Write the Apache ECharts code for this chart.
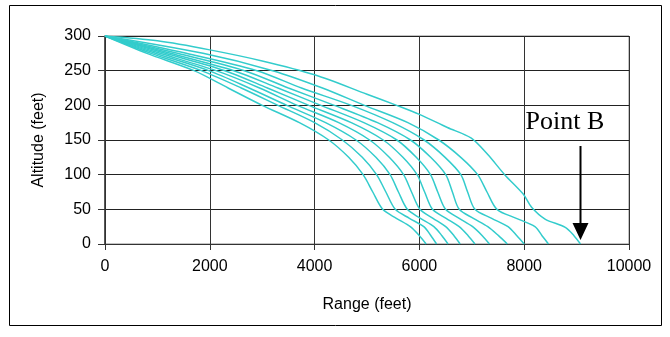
<!DOCTYPE html>
<html>
<head>
<meta charset="utf-8">
<script src="https://cdn.jsdelivr.net/npm/echarts@6/dist/echarts.min.js"></script>
<style>
html,body{margin:0;padding:0;background:#fff;}
#chart{width:670px;height:337px;}
</style>
</head>
<body>
<div id="chart"></div>
<script>
// ---- data (range in feet, altitude in feet) ----
var xTicks = [0, 2000, 4000, 6000, 8000, 10000];
var yTicks = [0, 50, 100, 150, 200, 250, 300];
var xTitle = 'Range (feet)';
var yTitle = 'Altitude (feet)';
var annotationText = 'Point B';
var pointB = [9074, 0];

var curve0 = [[0,300],[800,275],[1700,250],[2350,225],[3000,200],[3710,175],[4270,150],[4650,125],[4926,100],[5110,75],[5300,50],[5560,37],[5826,25],[6000,12],[6129,0]];
var curve1 = [[0,300],[880,275],[1840,250],[2600,225],[3300,200],[4000,175],[4530,150],[4910,125],[5183,100],[5360,75],[5540,50],[5810,37],[6084,25],[6220,12],[6328,0]];
var curve2 = [[0,300],[960,275],[1980,250],[2750,225],[3470,200],[4210,175],[4790,150],[5170,125],[5441,100],[5600,75],[5770,50],[6020,37],[6276,25],[6430,12],[6547,0]];
var curve3 = [[0,300],[1050,275],[2120,250],[2950,225],[3670,200],[4460,175],[5050,150],[5425,125],[5698,100],[5850,75],[6010,50],[6260,37],[6502,25],[6660,12],[6778,0]];
var curve4 = [[0,300],[1150,275],[2290,250],[3100,225],[3890,200],[4700,175],[5310,150],[5685,125],[5955,100],[6100,75],[6250,50],[6510,37],[6759,25],[6930,12],[7061,0]];
var curve5 = [[0,300],[1250,275],[2460,250],[3300,225],[4120,200],[4940,175],[5570,150],[5940,125],[6212,100],[6350,75],[6500,50],[6760,37],[7016,25],[7200,12],[7337,0]];
var curve6 = [[0,300],[1380,275],[2660,250],[3500,225],[4375,200],[5200,175],[5830,150],[6215,125],[6502,100],[6630,75],[6760,50],[7030,37],[7305,25],[7510,12],[7678,0]];
var curve7 = [[0,300],[1550,275],[2900,250],[3750,225],[4700,200],[5490,175],[6090,150],[6490,125],[6791,100],[6920,75],[7060,50],[7380,37],[7691,25],[7860,12],[8000,0]];
var curve8 = [[0,300],[1870,275],[3200,250],[4150,225],[4950,200],[5780,175],[6370,150],[6790,125],[7112,100],[7290,75],[7480,50],[7850,37],[8205,25],[8340,12],[8463,0]];
var curve9 = [[0,300],[1000,293],[2000,280],[3000,264],[4000,244],[5000,216],[5566,200],[6000,187],[6534,168],[6984,153],[7305,129],[7627,100],[7981,72],[8141,53],[8398,36],[8784,24],[8950,12],[9074,0]];

var curves = [curve0, curve1, curve2, curve3, curve4, curve5, curve6, curve7, curve8, curve9];

var LINE_COLOR = '#33CCCC';
var FONT = '"Liberation Sans", Arial, sans-serif';

var chart = echarts.init(document.getElementById('chart'), null, {renderer: 'canvas'});

var series = curves.map(function (c, i) {
  return {
    type: 'line',
    name: 'c' + i,
    data: c,
    showSymbol: false,
    smooth: 0.3,
    lineStyle: {color: LINE_COLOR, width: 1.5},
    itemStyle: {color: LINE_COLOR},
    silent: true,
    animation: false,
    z: 3
  };
});

chart.setOption({
  animation: false,
  backgroundColor: '#fff',
  grid: {left: 105, right: 41, top: 36, bottom: 93, show: true, borderColor: '#888', borderWidth: 1, containLabel: false},
  xAxis: {
    type: 'value',
    min: xTicks[0], max: xTicks[xTicks.length - 1], interval: 2000,
    name: xTitle, nameLocation: 'middle', nameGap: 53,
    nameTextStyle: {fontFamily: FONT, fontSize: 16, color: '#000'},
    axisLine: {show: true, onZero: false, lineStyle: {color: '#333', width: 1}},
    axisTick: {show: true, inside: false, length: 6, lineStyle: {color: '#333'}},
    axisLabel: {fontFamily: FONT, fontSize: 16, color: '#000', margin: 15, formatter: function (v) { return String(v); }},
    splitLine: {show: true, lineStyle: {color: '#333', width: 1}}
  },
  yAxis: {
    type: 'value',
    min: yTicks[0], max: yTicks[yTicks.length - 1], interval: 50,
    name: yTitle, nameLocation: 'middle', nameGap: 58, nameRotate: 90,
    nameTextStyle: {fontFamily: FONT, fontSize: 16, color: '#000'},
    axisLine: {show: true, onZero: false, lineStyle: {color: '#333', width: 1.5}},
    axisTick: {show: true, inside: false, length: 7, lineStyle: {color: '#333'}},
    axisLabel: {fontFamily: FONT, fontSize: 16, color: '#000', margin: 14, formatter: function (v) { return String(v); }},
    splitLine: {show: true, lineStyle: {color: '#222', width: 1}}
  },
  series: series
});

// annotation: "Point B" label with arrow, positioned from data coords
var tip = chart.convertToPixel({gridIndex: 0}, pointB);
var ax = Math.round(tip[0]) + 0.5;
var tipY = tip[1] - 4;
chart.setOption({
  graphic: [
    {type: 'rect', shape: {x: 9.5, y: 5.5, width: 652, height: 320}, style: {fill: null, stroke: '#000', lineWidth: 1}, silent: true, z: 0},
    {type: 'line', shape: {x1: ax, y1: tipY - 94, x2: ax, y2: tipY - 14}, style: {stroke: '#000', lineWidth: 2}, z: 10},
    {type: 'polygon', shape: {points: [[ax - 8, tipY - 17], [ax + 8, tipY - 17], [ax, tipY]]}, style: {fill: '#000'}, z: 10},
    {type: 'text', x: ax - 55, y: tipY - 131, style: {text: annotationText, font: '26px "Liberation Serif", "Times New Roman", serif', fill: '#000'}, z: 10}
  ]
});
</script>
</body>
</html>
